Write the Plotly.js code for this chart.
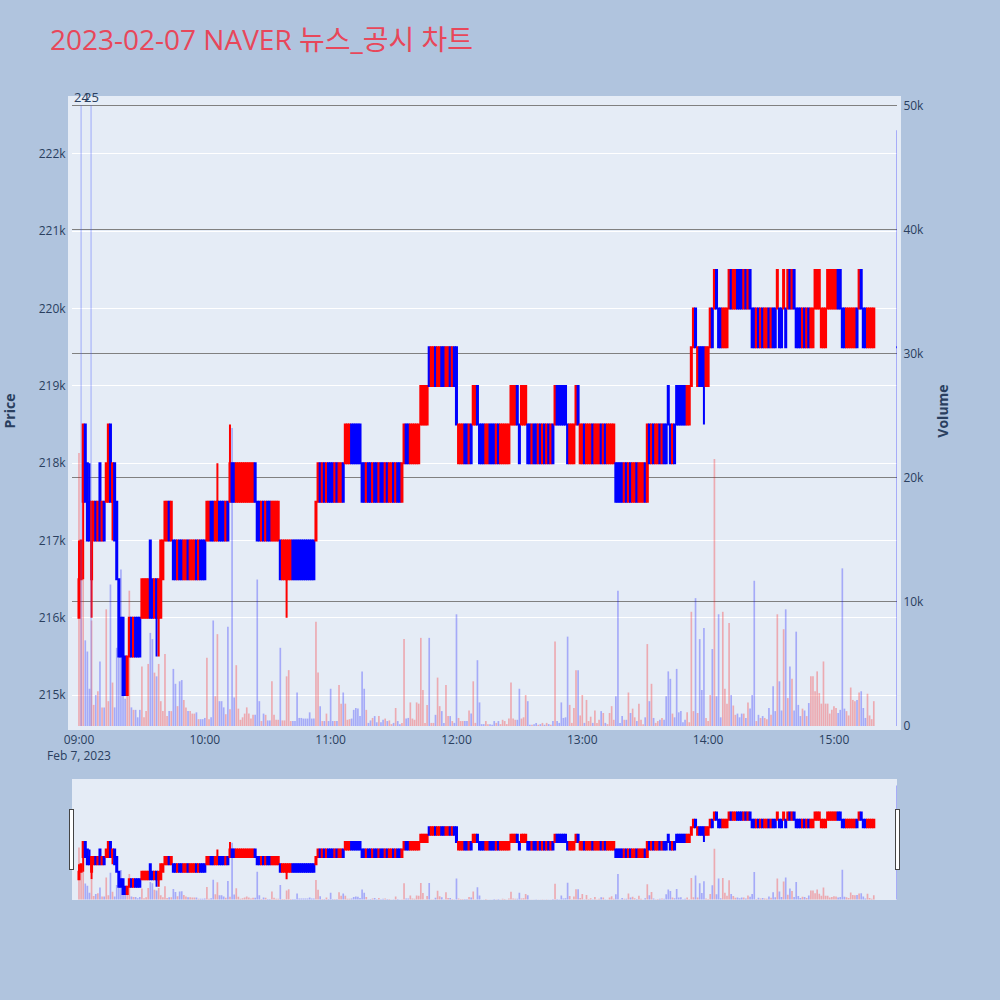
<!DOCTYPE html>
<html><head><meta charset="utf-8">
<script src="https://cdn.plot.ly/plotly-3.0.1.min.js"></script>
<style>body{margin:0;background:#B0C4DE}</style>
</head><body><div id="chart" style="width:1000px;height:1000px"></div>
<script>
const tradeDate = '2023-02-07';
const times = [
"09:00","09:01","09:02","09:03","09:04","09:05","09:06","09:07","09:08","09:09","09:10","09:11","09:12","09:13","09:14","09:15","09:16","09:17","09:18","09:19","09:20","09:21","09:22","09:23","09:24","09:25","09:26","09:27","09:28","09:29","09:30","09:31","09:32","09:33","09:34","09:35","09:36","09:37","09:38","09:39","09:40","09:41","09:42","09:43","09:44","09:45","09:46","09:47","09:48","09:49","09:50","09:51","09:52","09:53","09:54","09:55","09:56","09:57","09:58","09:59",
"10:00","10:01","10:02","10:03","10:04","10:05","10:06","10:07","10:08","10:09","10:10","10:11","10:12","10:13","10:14","10:15","10:16","10:17","10:18","10:19","10:20","10:21","10:22","10:23","10:24","10:25","10:26","10:27","10:28","10:29","10:30","10:31","10:32","10:33","10:34","10:35","10:36","10:37","10:38","10:39","10:40","10:41","10:42","10:43","10:44","10:45","10:46","10:47","10:48","10:49","10:50","10:51","10:52","10:53","10:54","10:55","10:56","10:57","10:58","10:59",
"11:00","11:01","11:02","11:03","11:04","11:05","11:06","11:07","11:08","11:09","11:10","11:11","11:12","11:13","11:14","11:15","11:16","11:17","11:18","11:19","11:20","11:21","11:22","11:23","11:24","11:25","11:26","11:27","11:28","11:29","11:30","11:31","11:32","11:33","11:34","11:35","11:36","11:37","11:38","11:39","11:40","11:41","11:42","11:43","11:44","11:45","11:46","11:47","11:48","11:49","11:50","11:51","11:52","11:53","11:54","11:55","11:56","11:57","11:58","11:59",
"12:00","12:01","12:02","12:03","12:04","12:05","12:06","12:07","12:08","12:09","12:10","12:11","12:12","12:13","12:14","12:15","12:16","12:17","12:18","12:19","12:20","12:21","12:22","12:23","12:24","12:25","12:26","12:27","12:28","12:29","12:30","12:31","12:32","12:33","12:34","12:35","12:36","12:37","12:38","12:39","12:40","12:41","12:42","12:43","12:44","12:45","12:46","12:47","12:48","12:49","12:50","12:51","12:52","12:53","12:54","12:55","12:56","12:57","12:58","12:59",
"13:00","13:01","13:02","13:03","13:04","13:05","13:06","13:07","13:08","13:09","13:10","13:11","13:12","13:13","13:14","13:15","13:16","13:17","13:18","13:19","13:20","13:21","13:22","13:23","13:24","13:25","13:26","13:27","13:28","13:29","13:30","13:31","13:32","13:33","13:34","13:35","13:36","13:37","13:38","13:39","13:40","13:41","13:42","13:43","13:44","13:45","13:46","13:47","13:48","13:49","13:50","13:51","13:52","13:53","13:54","13:55","13:56","13:57","13:58","13:59",
"14:00","14:01","14:02","14:03","14:04","14:05","14:06","14:07","14:08","14:09","14:10","14:11","14:12","14:13","14:14","14:15","14:16","14:17","14:18","14:19","14:20","14:21","14:22","14:23","14:24","14:25","14:26","14:27","14:28","14:29","14:30","14:31","14:32","14:33","14:34","14:35","14:36","14:37","14:38","14:39","14:40","14:41","14:42","14:43","14:44","14:45","14:46","14:47","14:48","14:49","14:50","14:51","14:52","14:53","14:54","14:55","14:56","14:57","14:58","14:59",
"15:00","15:01","15:02","15:03","15:04","15:05","15:06","15:07","15:08","15:09","15:10","15:11","15:12","15:13","15:14","15:15","15:16","15:17","15:18","15:19","15:30"];

// prices in thousands of KRW
const openK = [
216,216.5,217.5,218.5,218,217.5,216.5,217,217.5,217,
218,217,217.5,217.5,217.5,218.5,217.5,218,217.5,216.5,
216,216,215.5,215,215.5,216,215.5,216,216,216,
216,216,216,216,217,216.5,216,216.5,216,216,
216.5,217,217,217.5,217,217,217,216.5,217,217,
216.5,216.5,217,216.5,216.5,216.5,217,216.5,217,217,
217,217,217,217.5,217.5,217,217,217.5,217.5,217.5,
217,217.5,217.5,218,218,217.5,217.5,217.5,217.5,217.5,
217.5,217.5,217.5,217.5,218,217.5,217.5,217,217.5,217,
217.5,217.5,217,217,217,217,217,216.5,216.5,216.5,
216.5,216.5,217,217,217,217,217,217,217,217,
217,217,217,217,217.5,218,217.5,218,217.5,218,
218,218,217.5,218,217.5,217.5,218,218,218,218,
218.5,218.5,218.5,218.5,218.5,218,218,217.5,218,218,
217.5,218,218,217.5,218,218,217.5,218,217.5,217.5,
218,217.5,218,218,217.5,218,218.5,218.5,218,218,
218,218,218,218.5,218.5,218.5,218.5,219.5,219,219,
219.5,219,219,219.5,219.5,219,219,219.5,219,219.5,
219.5,218,218,218,218.5,218.5,218,218.5,218.5,218.5,
219,218.5,218.5,218.5,218,218,218.5,218.5,218.5,218,
218.5,218,218,218,218,218,218.5,218.5,218.5,219,
218.5,218.5,218.5,218.5,218.5,218.5,218,218.5,218.5,218,
218.5,218,218.5,218,218.5,218,218.5,218.5,219,219,
219,219,219,218.5,218,218,218,218.5,219,218,
218,218.5,218,218,218,218.5,218,218,218,218.5,
218,218.5,218,218,218,218,218,218,218,218,
217.5,218,217.5,218,217.5,217.5,218,217.5,217.5,217.5,
218,217.5,218.5,218,218.5,218,218,218.5,218,218.5,
218.5,219,218.5,218,218.5,219,219,219,219,219,
218.5,218.5,219,219.5,220,219,219.5,219.5,219.5,219,
219,219.5,220,220,220.5,220,220,219.5,219.5,219.5,
220,220.5,220,220,220.5,220.5,220.5,220,220.5,220,
220.5,220,220,219.5,220,219.5,220,219.5,219.5,220,
219.5,220,220,220,220,220,220,220,220,220.5,
220,220.5,220,220,220,219.5,220,219.5,220,219.5,
219.5,220,220,220,219.5,219.5,219.5,220,220,220,
220,220,220.5,220.5,220,220,219.5,219.5,219.5,219.5,
219.5,220,220,220.5,220,220,219.5,219.5,219.5,219.5,
219.5];

const highK = [
217,217,218.5,218.5,218,218,217.5,217.5,217.5,217.5,
218,217.5,217.5,218,218.5,218.5,218,218,217.5,216.5,
216,216,215.5,215.5,216,216,216,216,216,216,
216.5,216.5,216.5,216.5,217,216.5,216.5,216.5,216.5,217,
217,217.5,217.5,217.5,217.5,217,217,217,217,217,
217,217,217,217,217,217,217,217,217,217,
217,217.5,217.5,217.5,217.5,217.5,218,217.5,217.5,217.5,
217.5,217.5,218.5,218,218,218,218,218,218,218,
218,218,218,218,218,217.5,217.5,217.5,217.5,217.5,
217.5,217.5,217.5,217.5,217.5,217.5,217,217,217,217,
217,217,217,217,217,217,217,217,217,217,
217,217,217,217.5,218,218,218,218,218,218,
218,218,218,218,218,218,218,218.5,218.5,218.5,
218.5,218.5,218.5,218.5,218.5,218,218,218,218,218,
218,218,218,218,218,218,218,218,218,218,
218,218,218,218,218,218.5,218.5,218.5,218.5,218.5,
218.5,218.5,218.5,219,219,219,219,219.5,219.5,219.5,
219.5,219.5,219.5,219.5,219.5,219.5,219.5,219.5,219.5,219.5,
219.5,218.5,218.5,218.5,218.5,218.5,218.5,218.5,219,219,
219,218.5,218.5,218.5,218.5,218.5,218.5,218.5,218.5,218.5,
218.5,218.5,218.5,218.5,218.5,218.5,219,219,219,219,
218.5,219,219,219,218.5,218.5,218.5,218.5,218.5,218.5,
218.5,218.5,218.5,218.5,218.5,218.5,218.5,219,219,219,
219,219,219,218.5,218.5,218.5,218.5,219,219,218.5,
218.5,218.5,218.5,218.5,218.5,218.5,218.5,218.5,218.5,218.5,
218.5,218.5,218.5,218.5,218.5,218.5,218,218,218,218,
218,218,218,218,218,218,218,218,218,218,
218,218.5,218.5,218.5,218.5,218.5,218.5,218.5,218.5,218.5,
218.5,219,218.5,218.5,218.5,219,219,219,219,219,
219,219,219.5,220,220,219.5,219.5,219.5,219.5,219.5,
219.5,220,220,220.5,220.5,220,220,220,220,220,
220.5,220.5,220.5,220.5,220.5,220.5,220.5,220.5,220.5,220.5,
220.5,220,220,220,220,220,220,220,220,220,
220,220,220,220.5,220,220,220.5,220,220.5,220.5,
220.5,220.5,220,220,220,220,220,220,220,220,
220,220.5,220.5,220.5,220,220,220,220.5,220.5,220.5,
220.5,220.5,220.5,220.5,220,220,220,220,220,220,
220,220,220.5,220.5,220,220,220,220,220,220,
219.5];

const lowK = [
216,216.5,216.5,217.5,217,217,216,217,217,217,
217,217,217,217.5,217.5,217.5,217,217,216.5,215.5,
215.5,215,215,215,215.5,215.5,215.5,215.5,215.5,215.5,
216,216,216,216,216,216,216,215.5,215.5,216,
216.5,217,217,217,217,216.5,216.5,216.5,216.5,216.5,
216.5,216.5,216.5,216.5,216.5,216.5,216.5,216.5,216.5,216.5,
216.5,217,217,217,217,217,217,217,217,217,
217,217,217.5,217.5,217.5,217.5,217.5,217.5,217.5,217.5,
217.5,217.5,217.5,217.5,217.5,217,217,217,217,217,
217,217,217,217,217,217,216.5,216.5,216.5,216,
216.5,216.5,216.5,216.5,216.5,216.5,216.5,216.5,216.5,216.5,
216.5,216.5,216.5,217,217.5,217.5,217.5,217.5,217.5,217.5,
217.5,217.5,217.5,217.5,217.5,217.5,217.5,218,218,218,
218,218,218,218,218,217.5,217.5,217.5,217.5,217.5,
217.5,217.5,217.5,217.5,217.5,217.5,217.5,217.5,217.5,217.5,
217.5,217.5,217.5,217.5,217.5,218,218,218,218,218,
218,218,218,218.5,218.5,218.5,218.5,219,219,219,
219,219,219,219,219,219,219,219,219,219,
218.5,218,218,218,218,218,218,218,218.5,218.5,
218.5,218,218,218,218,218,218,218,218,218,
218,218,218,218,218,218,218.5,218.5,218.5,218.5,
218,218.5,218.5,218.5,218,218,218,218,218,218,
218,218,218,218,218,218,218,218.5,218.5,218.5,
218.5,218.5,218.5,218,218,218,218,218.5,218.5,218,
218,218,218,218,218,218,218,218,218,218,
218,218,218,218,218,218,217.5,217.5,217.5,217.5,
217.5,217.5,217.5,217.5,217.5,217.5,217.5,217.5,217.5,217.5,
217.5,217.5,218,218,218,218,218,218,218,218,
218,218.5,218,218,218,218.5,218.5,218.5,218.5,218.5,
218.5,218.5,219,219.5,219.5,219,219,219,218.5,219,
219,219.5,219.5,220,220,219.5,219.5,219.5,219.5,219.5,
220,220,220,220,220,220,220,220,220,220,
220,219.5,219.5,219.5,219.5,219.5,219.5,219.5,219.5,219.5,
219.5,219.5,219.5,220,219.5,219.5,220,219.5,220,220,
220,220,219.5,219.5,219.5,219.5,219.5,219.5,219.5,219.5,
219.5,220,220,220,219.5,219.5,219.5,220,220,220,
220,220,220,220,219.5,219.5,219.5,219.5,219.5,219.5,
219.5,219.5,220,220,219.5,219.5,219.5,219.5,219.5,219.5,
219.5];

const closeK = [
216.5,217,218.5,217.5,217,217,217.5,217.5,217,217.5,
217,217.5,217,218,218.5,217.5,218,217,216.5,215.5,
215.5,215,215,215.5,216,215.5,216,215.5,215.5,215.5,
216.5,216.5,216.5,216.5,216,216,216.5,216,216.5,217,
217,217.5,217.5,217,217.5,216.5,216.5,217,216.5,216.5,
217,217,216.5,217,217,217,216.5,217,216.5,216.5,
216.5,217.5,217.5,217,217,217.5,217.5,217,217,217,
217.5,217,218,217.5,217.5,218,218,218,218,218,
218,218,218,218,217.5,217,217,217.5,217,217.5,
217,217,217.5,217.5,217.5,217.5,216.5,217,217,217,
217,217,216.5,216.5,216.5,216.5,216.5,216.5,216.5,216.5,
216.5,216.5,216.5,217.5,218,217.5,218,217.5,218,217.5,
217.5,217.5,218,217.5,218,218,217.5,218.5,218.5,218.5,
218,218,218,218,218,217.5,217.5,218,217.5,217.5,
218,217.5,217.5,218,217.5,217.5,218,217.5,218,218,
217.5,218,217.5,217.5,218,218.5,218,218,218.5,218.5,
218.5,218.5,218.5,219,219,219,219,219,219.5,219.5,
219,219.5,219.5,219,219,219.5,219.5,219,219.5,219,
218.5,218.5,218.5,218.5,218,218,218.5,218,219,219,
218.5,218,218,218,218.5,218.5,218,218,218,218.5,
218,218.5,218.5,218.5,218.5,218.5,219,219,219,218.5,
218,219,219,219,218,218,218.5,218,218,218.5,
218,218.5,218,218.5,218,218.5,218,219,218.5,218.5,
218.5,218.5,218.5,218,218.5,218.5,218.5,219,218.5,218.5,
218.5,218,218.5,218.5,218.5,218,218.5,218.5,218.5,218,
218.5,218,218.5,218.5,218.5,218.5,217.5,217.5,217.5,217.5,
218,217.5,218,217.5,218,218,217.5,218,218,218,
217.5,218.5,218,218.5,218,218.5,218.5,218,218.5,218,
218,218.5,218,218.5,218,218.5,218.5,218.5,218.5,218.5,
219,219,219.5,220,219.5,219.5,219,219,219,219.5,
219.5,220,219.5,220.5,220,219.5,219.5,220,220,220,
220.5,220,220.5,220.5,220,220,220,220.5,220,220.5,
220,219.5,219.5,220,219.5,220,219.5,220,220,219.5,
220,219.5,219.5,220.5,219.5,219.5,220.5,219.5,220.5,220,
220.5,220,219.5,219.5,219.5,220,219.5,220,219.5,220,
220,220.5,220.5,220.5,220,220,220,220.5,220.5,220.5,
220.5,220.5,220,220,219.5,219.5,220,220,220,220,
220,219.5,220.5,220,219.5,219.5,220,220,220,220,
219.5];

const volume = [
22000,14000,12000,6900,6000,3000,8500,1700,2500,2800,
5200,1500,1500,9400,2000,11400,3500,1500,6300,9800,
12600,2500,2200,2800,10900,1500,1300,1300,700,1300,
4800,700,1200,5000,7500,7000,4300,4000,5000,2000,
1200,5800,800,1200,1200,4600,3400,1600,3600,3700,
2100,1500,1200,1200,1000,1000,1100,550,550,550,
650,5500,550,700,8500,2400,7400,2000,2000,1500,
950,8000,1350,24000,2300,4900,1400,500,700,1000,
1500,1000,600,900,900,11800,2000,400,1000,900,
450,450,3600,900,500,500,6300,450,450,4000,
4500,400,400,400,2700,650,650,600,600,600,
1100,600,600,8400,4300,1600,400,400,1000,400,
3000,400,400,400,3300,1800,2700,1800,500,550,
600,1300,1450,1400,800,4400,3000,1300,250,450,
650,800,300,800,300,500,600,400,450,150,
250,1450,400,150,250,7000,600,650,1900,600,
500,1900,1800,7100,2900,250,1700,7100,250,250,
900,3900,1600,1200,250,3300,800,800,400,250,
9000,650,400,400,400,400,1250,1000,3600,250,
5300,1900,150,150,400,150,150,100,400,250,
400,150,500,400,150,600,3500,600,500,500,
3000,600,700,2500,2000,100,100,150,250,100,
150,250,100,250,150,100,400,6800,400,250,
1900,650,700,7200,1700,250,1450,4500,4500,850,
2500,250,2100,400,750,250,1250,250,500,1200,
1050,250,150,1050,1600,500,2400,10900,250,800,
500,500,2700,1050,1400,700,400,1800,500,150,
700,6600,2000,3400,650,250,400,500,650,500,
2400,4400,3800,1000,700,4600,1100,1200,300,500,
1100,300,9200,1200,10300,1050,7000,2900,7900,650,
400,2500,6200,21500,2400,9000,700,9200,3000,1800,
8300,2500,1650,900,1000,700,1000,1000,650,1900,
1400,2500,11700,400,900,650,800,650,550,1450,
900,3200,1200,9000,3600,1250,7800,9400,2250,4800,
3800,1250,7600,1700,800,1400,1250,800,1850,4000,
4000,2800,4400,2650,1800,5200,1800,1800,1000,1300,
1600,1450,1050,1300,12700,1400,1200,850,3100,2100,
2000,2100,2700,2800,1450,650,2600,850,550,2000,
48000];

const newsTimes = ["09:01:00","09:05:45"];
const newsLabels = ["24","25"];

const x = times.map(t => tradeDate + ' ' + t);
const open = openK.map(v => v * 1000);
const high = highK.map(v => v * 1000);
const low = lowK.map(v => v * 1000);
const close = closeK.map(v => v * 1000);
const volColors = close.map((c, i) => c > open[i] ? 'rgba(255,0,0,0.28)' : 'rgba(0,0,255,0.28)');

const xRange = [tradeDate + ' 08:56:40', tradeDate + ' 15:30:04'];

const traces = [
  {type:'candlestick', x:x, open:open, high:high, low:low, close:close,
   increasing:{line:{color:'red'}, fillcolor:'red'},
   decreasing:{line:{color:'blue'}, fillcolor:'blue'},
   yaxis:'y', showlegend:false, name:'Price'},
  {type:'bar', x:x, y:volume, marker:{color:volColors, line:{width:0}},
   yaxis:'y2', showlegend:false, name:'Volume'}
];

const shapes = newsTimes.map(t => ({type:'line', xref:'x', yref:'y2',
  x0: tradeDate + ' ' + t, x1: tradeDate + ' ' + t, y0: 0, y1: 50000,
  line:{color:'rgba(70,90,255,0.45)', width:1}}));
const annotations = newsTimes.map((t, i) => ({xref:'x', yref:'y2',
  x: tradeDate + ' ' + t, y: 50000, text: newsLabels[i], showarrow:false,
  yanchor:'bottom', yshift:-3, font:{size:13, color:'#2a3f5f'}}));

const layout = {
  width:1000, height:1000,
  paper_bgcolor:'#B0C4DE', plot_bgcolor:'#E5ECF6',
  font:{family:'"Open Sans", "Noto Sans CJK KR", sans-serif', color:'#2a3f5f', size:12},
  title:{text:'2023-02-07 NAVER 뉴스_공시 차트', x:0.05, xanchor:'left', y:0.96, yanchor:'middle',
         font:{size:28, color:'#E8475A', family:'"Open Sans", "Noto Sans CJK KR", sans-serif'}},
  margin:{l:72, r:103, t:96, b:100},
  showlegend:false,
  bargap:0.2,
  xaxis:{type:'date', range:xRange, showgrid:false, zeroline:false,
         showline:true, linecolor:'#E5ECF6', linewidth:4, ticks:'',
         rangeslider:{visible:true, bgcolor:'#E5ECF6', range:xRange}},
  yaxis:{title:{text:'<b>Price</b>', font:{size:14}, standoff:24}, automargin:false,
         range:[214600, 222750], gridcolor:'white',
         zeroline:false, showline:true, linecolor:'#E5ECF6', linewidth:4, ticks:''},
  yaxis2:{title:{text:'<b>Volume</b>', font:{size:14}, standoff:16}, automargin:false,
          overlaying:'y', side:'right',
          range:[0, 50750], showgrid:true, gridcolor:'grey', zeroline:true, zerolinecolor:'white',
          showline:true, linecolor:'#E5ECF6', linewidth:4, ticks:''},
  shapes:shapes,
  annotations:annotations
};

Plotly.newPlot('chart', traces, layout, {displayModeBar:false});
</script>
</body></html>
